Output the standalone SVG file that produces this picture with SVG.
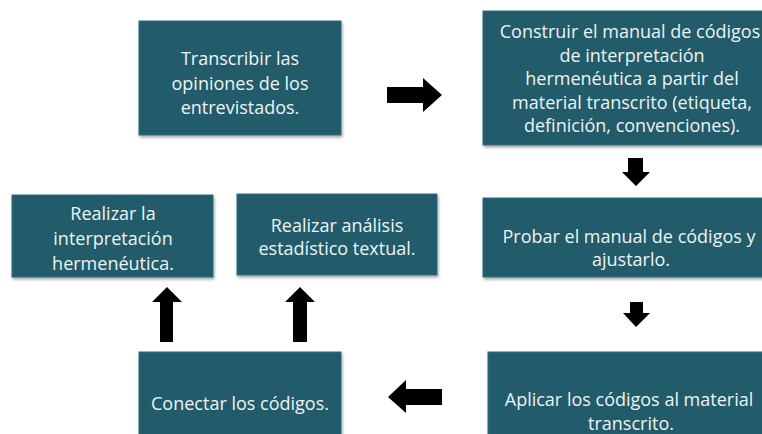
<svg xmlns="http://www.w3.org/2000/svg" width="762" height="434" viewBox="0 0 762 434">
<defs>
<filter id="sh" x="-5%" y="-5%" width="115%" height="115%">
<feDropShadow dx="1" dy="2" stdDeviation="1.5" flood-color="#000" flood-opacity="0.35"/>
</filter>
</defs>
<style>
.box{fill:#245b6b;stroke:#2f6e80;stroke-width:1;filter:url(#sh)}
.t{font-family:"Open Sans","Noto Sans",sans-serif;font-size:18px;fill:#eef3f4;text-anchor:middle}
.ar{fill:#000}
</style>
<rect width="762" height="434" fill="#fff"/>
<g id="n1">
<rect class="box" x="139" y="21" width="202" height="114"/>
<text class="t" x="240" y="65">Transcribir las</text>
<text class="t" x="240" y="89.5">opiniones de los</text>
<text class="t" x="240" y="114">entrevistados.</text>
</g>
<g id="n2">
<rect class="box" x="483" y="11" width="304" height="134"/>
<text class="t" x="630" y="38">Construir el manual de códigos</text>
<text class="t" x="632" y="62">de interpretación</text>
<text class="t" x="632" y="85">hermenéutica a partir del</text>
<text class="t" x="632" y="109">material transcrito (etiqueta,</text>
<text class="t" x="632" y="132">definición, convenciones).</text>
</g>
<g id="n3">
<rect class="box" x="483" y="198" width="304" height="79"/>
<text class="t" x="629" y="243">Probar el manual de códigos y</text>
<text class="t" x="631" y="266">ajustarlo.</text>
</g>
<g id="n4">
<rect class="box" x="488" y="352" width="300" height="100"/>
<text class="t" x="629" y="406">Aplicar los códigos al material</text>
<text class="t" x="631" y="430">transcrito.</text>
</g>
<g id="n5">
<rect class="box" x="139" y="352" width="202" height="100"/>
<text class="t" x="240" y="410">Conectar los códigos.</text>
</g>
<g id="n6">
<rect class="box" x="12" y="195" width="201" height="82"/>
<text class="t" x="113" y="220">Realizar la</text>
<text class="t" x="113" y="245">interpretación</text>
<text class="t" x="113" y="270">hermenéutica.</text>
</g>
<g id="n7">
<rect class="box" x="237" y="194" width="200" height="81"/>
<text class="t" x="337" y="232">Realizar análisis</text>
<text class="t" x="337" y="255">estadístico textual.</text>
</g>
<g id="connectors">
<polygon class="ar" points="387,87 423,87 423,78 442,95 423,112 423,103 387,103"/>
<polygon class="ar" points="628,158 643,158 643,172 650,172 636,186 622,172 628,172"/>
<polygon class="ar" points="630,302 643,302 643,313 650,313 636,327 623,313 630,313"/>
<polygon class="ar" points="442,389 406,389 406,380 388,397 406,413 406,405 442,405"/>
<polygon class="ar" points="160,342 173,342 173,302 182,302 167,287 152,302 160,302"/>
<polygon class="ar" points="293,342 307,342 307,302 315,302 300,287 285,302 293,302"/>
</g>
</svg>
